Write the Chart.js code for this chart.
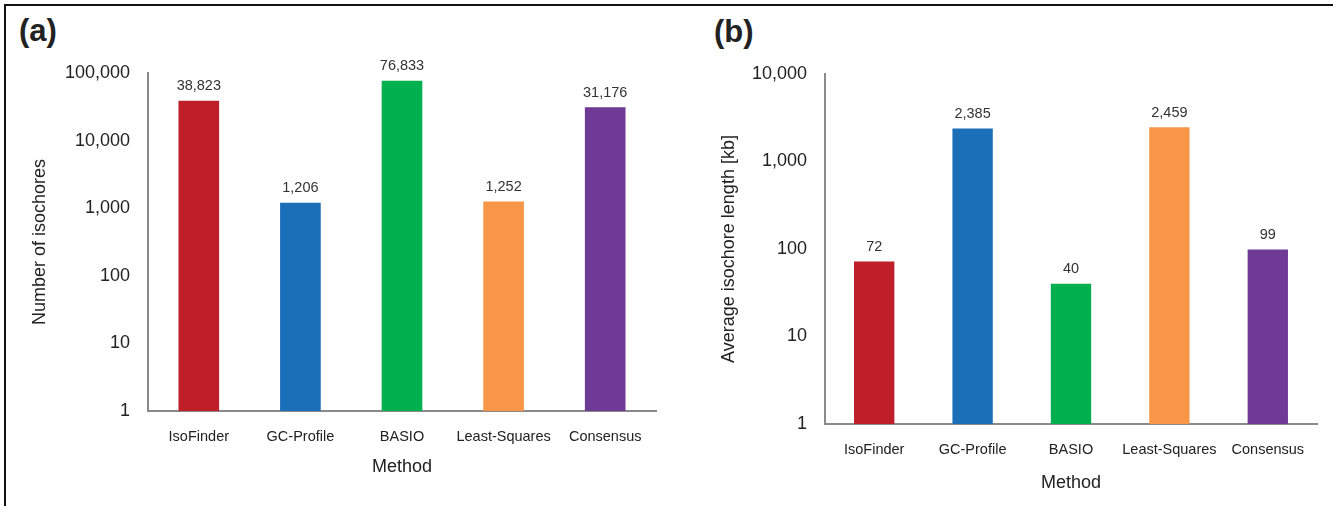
<!DOCTYPE html>
<html>
<head>
<meta charset="utf-8">
<script src="https://cdn.jsdelivr.net/npm/chart.js@4.4.1/dist/chart.umd.min.js"></script>
<style>
  html, body { margin: 0; padding: 0; background: #fff; }
  body { width: 1333px; height: 506px; position: relative; overflow: hidden; font-family: "Liberation Sans", Arial, sans-serif; }
  .frame { position: absolute; left: 4px; top: 4px; right: -10px; bottom: -10px; border-top: 2px solid #111; border-left: 2px solid #111; }
  .panel { position: absolute; top: 0; }
  .tag { position: absolute; font-weight: bold; font-size: 31px; color: #222; line-height: 1; }
</style>
</head>
<body>
<div class="frame"></div>
<div class="tag" style="left:19px; top:15px;">(a)</div>
<div class="tag" style="left:714px; top:16px;">(b)</div>
<div class="panel" style="left:0; width:670px; height:506px;"><canvas id="countChart"></canvas></div>
<div class="panel" style="left:670px; width:663px; height:506px;"><canvas id="lengthChart"></canvas></div>

<script>
const methods = ['IsoFinder', 'GC-Profile', 'BASIO', 'Least-Squares', 'Consensus'];
const barColors = ['#BE1F28', '#1B6EB8', '#00B04F', '#F79646', '#6E3A95'];

// panel (a): number of isochores per method
const isochoreCounts = [38823, 1206, 76833, 1252, 31176];
const countTicks = [1, 10, 100, 1000, 10000, 100000];

// panel (b): average isochore length in kb
const avgLengths = [72, 2385, 40, 2459, 99];
const lengthTicks = [1, 10, 100, 1000, 10000];

const fontFamily = '"Liberation Sans", Arial, sans-serif';
const axisGray = '#8a8a8a';

// value labels above each bar
const barValueLabels = {
    id: 'barValueLabels',
    afterDatasetsDraw(chart) {
        const ctx = chart.ctx;
        const meta = chart.getDatasetMeta(0);
        const values = chart.data.datasets[0].data;
        ctx.save();
        ctx.font = '14.5px ' + fontFamily;
        ctx.fillStyle = '#333';
        ctx.textAlign = 'center';
        ctx.textBaseline = 'alphabetic';
        meta.data.forEach((bar, i) => {
            ctx.fillText(values[i].toLocaleString('en-US'), bar.x, bar.y - 10.5);
        });
        ctx.restore();
    }
};

function buildChart(canvasId, values, ticks, yTitle, cfg) {
    const ctx = document.getElementById(canvasId).getContext('2d');
    return new Chart(ctx, {
        type: 'bar',
        data: {
            labels: methods,
            datasets: [{
                data: values,
                backgroundColor: barColors,
                borderWidth: 0,
                barPercentage: cfg.barPct,
                categoryPercentage: 1
            }]
        },
        options: {
            responsive: true,
            maintainAspectRatio: false,
            animation: false,
            layout: { padding: { top: cfg.top, right: cfg.right, bottom: 0, left: 0 } },
            plugins: { legend: { display: false }, tooltip: { enabled: false } },
            scales: {
                x: {
                    grid: { display: false, drawTicks: false },
                    border: { display: true, color: axisGray, width: 2 },
                    ticks: {
                        color: '#222', padding: 17.3, maxRotation: 0, minRotation: 0, autoSkip: false,
                        font: { family: fontFamily, size: 14.5 }
                    },
                    title: {
                        display: true, text: 'Method', color: '#222',
                        font: { family: fontFamily, size: 18 },
                        padding: { top: 0, bottom: cfg.titlePad }
                    },
                    afterFit(scale) { scale.height = cfg.xHeight; }
                },
                y: {
                    type: 'logarithmic',
                    min: ticks[0],
                    max: ticks[ticks.length - 1],
                    grid: { display: false, drawTicks: false },
                    border: { display: true, color: axisGray, width: 2 },
                    ticks: {
                        color: '#222', padding: 18,
                        font: { family: fontFamily, size: 18 },
                        callback: v => Number(v).toLocaleString('en-US')
                    },
                    afterBuildTicks(scale) { scale.ticks = ticks.map(v => ({ value: v })); },
                    title: {
                        display: true, text: yTitle, color: '#222',
                        font: { family: fontFamily, size: 18 },
                        padding: { top: cfg.yTitlePad, bottom: 0 }
                    },
                    afterFit(scale) { scale.width = cfg.yWidth; }
                }
            }
        },
        plugins: [barValueLabels]
    });
}

buildChart('countChart', isochoreCounts, countTicks, 'Number of isochores', {
    barPct: 0.40, top: 73, right: 14, xHeight: 95, titlePad: 28, yWidth: 148, yTitlePad: 29
});

buildChart('lengthChart', avgLengths, lengthTicks, 'Average isochore length [kb]', {
    barPct: 0.41, top: 74, right: 16, xHeight: 82, titlePad: 12, yWidth: 155, yTitlePad: 48
});
</script>
</body>
</html>
